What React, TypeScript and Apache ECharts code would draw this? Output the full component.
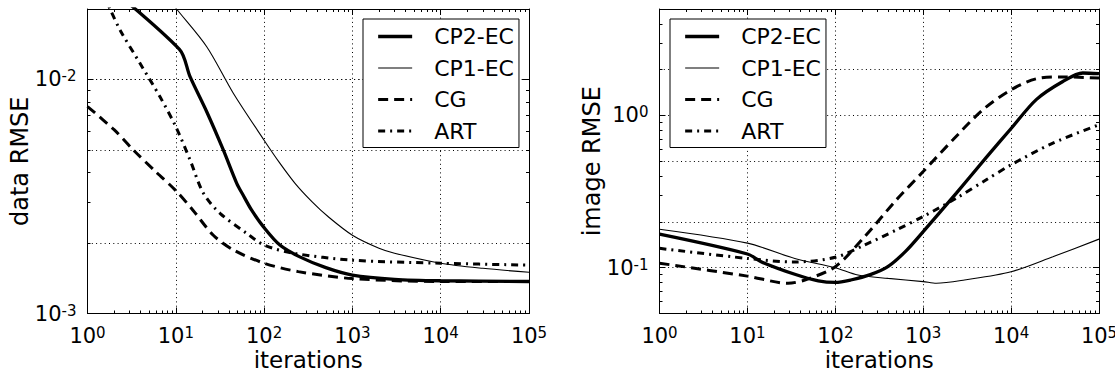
import React, { useEffect, useRef } from "react";
import * as echarts from "echarts";

const FONT = '"DejaVu Sans", "Liberation Sans", sans-serif';
const SERIES_NAMES = ["CP2-EC", "CP1-EC", "CG", "ART"];

// ---------- left panel: data RMSE ----------
const leftCP2Iter = [1, 11, 14.5, 22.4, 34.5, 49, 58, 72, 98, 151, 250, 500, 1000, 3000, 10000, 100000];
const leftCP2Val = [0.0296, 0.01345, 0.01028, 0.00728, 0.005, 0.0036, 0.0032, 0.00277, 0.00235, 0.00196, 0.00175, 0.00157, 0.00146, 0.0014, 0.00138, 0.00137];

const leftCP1Iter = [1, 10.2, 22.4, 44.8, 100, 150, 224, 350, 533, 1000, 2000, 3000, 10000, 30000, 100000];
const leftCP1Val = [0.06, 0.02, 0.0138, 0.00873, 0.0055, 0.0044, 0.0036, 0.003, 0.00259, 0.00216, 0.0019, 0.00181, 0.00164, 0.00156, 0.0015];

const leftCGIter = [1, 2, 3.3, 6.07, 10, 15.8, 26.6, 44.8, 100, 244, 1000, 10000, 100000];
const leftCGVal = [0.00766, 0.0061, 0.005, 0.004, 0.00335, 0.00275, 0.00216, 0.00187, 0.00164, 0.00151, 0.00141, 0.00137, 0.00137];

const leftARTIter = [1, 1.8, 2.33, 3.93, 6.6, 10, 14.5, 20.5, 31.7, 63.5, 100, 214, 1000, 10000, 100000];
const leftARTVal = [0.032, 0.02, 0.0163, 0.01172, 0.00845, 0.00628, 0.00453, 0.00327, 0.00268, 0.0022, 0.00196, 0.00181, 0.00169, 0.00164, 0.00161];

// ---------- right panel: image RMSE ----------
const rightCP2Iter = [1, 10, 14.5, 34.6, 64, 100, 150, 250, 400, 630, 1000, 2384, 5224, 10000, 19320, 38800, 65400, 100000];
const rightCP2Val = [0.166, 0.123, 0.109, 0.0905, 0.082, 0.08, 0.083, 0.09, 0.102, 0.128, 0.1725, 0.309, 0.53, 0.82, 1.27, 1.67, 1.9, 1.88];

const rightCP1Iter = [1, 10, 34.6, 100, 181, 400, 1000, 1413, 2950, 10000, 29850, 100000];
const rightCP1Val = [0.179, 0.145, 0.115, 0.1, 0.0895, 0.085, 0.081, 0.079, 0.083, 0.094, 0.118, 0.154];

const rightCGIter = [1, 10, 29, 45, 100, 216, 496, 1000, 2180, 4780, 10000, 19320, 38800, 100000];
const rightCGVal = [0.107, 0.088, 0.079, 0.083, 0.1015, 0.16, 0.279, 0.428, 0.692, 1.09, 1.475, 1.74, 1.79, 1.76];

const rightARTIter = [1, 10, 34.6, 100, 216, 496, 1000, 2384, 5224, 10000, 29850, 100000];
const rightARTVal = [0.134, 0.115, 0.109, 0.117, 0.141, 0.177, 0.217, 0.286, 0.378, 0.474, 0.658, 0.869];

// ---------- ticks ----------
const xLabelValues = [1, 10, 100, 1000, 10000, 100000];
const leftYLabelValues = [0.001, 0.01];
const rightYLabelValues = [0.1, 1];
const leftYGridValues = [0.002, 0.005, 0.01, 0.02];
const rightYGridValues = [0.2, 0.5, 2, 5];

function minorValues(eLo: number, eHi: number, mults: number[]) {
  const out: number[] = [];
  for (let e = eLo; e <= eHi; e++) {
    for (const m of mults) out.push(parseFloat((m * Math.pow(10, e)).toPrecision(6)));
  }
  return out;
}
const ALL_MULTS = [2, 3, 4, 5, 6, 7, 8, 9];
const OTHER_MULTS = [3, 4, 6, 7, 8, 9];

const BLACK = "#000";
const GRID_STYLE = { color: BLACK, width: 1, type: [1, 3.3] as any };
const TICK_STYLE = { color: BLACK, width: 1 };

const RICH = {
  b: { fontSize: 21, fontFamily: FONT, color: BLACK, verticalAlign: "bottom", lineHeight: 21 },
  s: { fontSize: 15, fontFamily: FONT, color: BLACK, verticalAlign: "top", lineHeight: 15 },
};
const expLabel = (v: number) => `{b|10}{s|${Math.round(Math.log10(v))}}`;

const LINE_STYLES: Record<string, any> = {
  "CP2-EC": { color: BLACK, width: 3.3, type: "solid" },
  "CP1-EC": { color: BLACK, width: 1.1, type: "solid" },
  CG: { color: BLACK, width: 3, type: [10, 6] },
  ART: { color: BLACK, width: 3, type: [7, 5, 2, 5] },
};

function xAxes(gridIndex: number) {
  const base = { type: "log", logBase: 10, gridIndex, min: 1, max: 100000, silent: true };
  const majors = [1, 10, 100, 1000, 10000, 100000];
  const minors = minorValues(0, 4, ALL_MULTS);
  return [
    {
      ...base,
      position: "bottom",
      axisLine: { show: true, onZero: false, lineStyle: { color: BLACK, width: 1 } },
      axisTick: { show: true, inside: true, length: 6, customValues: majors, lineStyle: TICK_STYLE },
      axisLabel: {
        show: true, customValues: xLabelValues, formatter: expLabel, rich: RICH, margin: 12,
        hideOverlap: false, showMinLabel: true, showMaxLabel: true,
      },
      splitLine: { show: true, lineStyle: GRID_STYLE },
      name: "iterations",
      nameLocation: "middle",
      nameGap: 35,
      nameMoveOverlap: false,
      nameTextStyle: { fontSize: 23, fontFamily: FONT, color: BLACK, lineHeight: 23 },
    },
    {
      ...base,
      position: "bottom",
      axisLine: { show: false, onZero: false },
      axisTick: { show: true, inside: true, length: 3, customValues: minors, lineStyle: TICK_STYLE },
      axisLabel: { show: false },
      splitLine: { show: false },
    },
    {
      ...base,
      position: "top",
      axisLine: { show: true, onZero: false, lineStyle: { color: BLACK, width: 1 } },
      axisTick: { show: true, inside: true, length: 6, customValues: majors, lineStyle: TICK_STYLE },
      axisLabel: { show: false },
      splitLine: { show: false },
    },
    {
      ...base,
      position: "top",
      axisLine: { show: false, onZero: false },
      axisTick: { show: true, inside: true, length: 3, customValues: minors, lineStyle: TICK_STYLE },
      axisLabel: { show: false },
      splitLine: { show: false },
    },
  ];
}

function yAxes(
  gridIndex: number, min: number, max: number, eLo: number, eHi: number,
  labels: number[], gridVals: number[], name: string, nameGap: number
) {
  const base = { type: "log", logBase: 10, gridIndex, min, max, silent: true };
  const majors: number[] = [];
  for (let e = eLo; e <= eHi; e++) majors.push(parseFloat(Math.pow(10, e).toPrecision(6)));
  const otherMinor = minorValues(eLo, eHi, OTHER_MULTS);
  const allMinor = minorValues(eLo, eHi, ALL_MULTS);
  return [
    {
      ...base,
      position: "left",
      axisLine: { show: true, onZero: false, lineStyle: { color: BLACK, width: 1 } },
      axisTick: { show: true, inside: true, length: 6, customValues: majors, lineStyle: TICK_STYLE },
      axisLabel: {
        show: true, customValues: labels, formatter: expLabel, rich: RICH, margin: 11,
        hideOverlap: false, showMinLabel: true, showMaxLabel: true,
      },
      splitLine: { show: true, lineStyle: GRID_STYLE },
      name,
      nameLocation: "middle",
      nameGap,
      nameMoveOverlap: false,
      nameTextStyle: { fontSize: 24, fontFamily: FONT, color: BLACK },
    },
    {
      ...base,
      position: "left",
      axisLine: { show: false, onZero: false },
      axisTick: { show: true, inside: true, length: 3, customValues: gridVals, lineStyle: TICK_STYLE },
      axisLabel: { show: false },
      splitLine: { show: true, lineStyle: GRID_STYLE },
    },
    {
      ...base,
      position: "left",
      axisLine: { show: false, onZero: false },
      axisTick: { show: true, inside: true, length: 3, customValues: otherMinor, lineStyle: TICK_STYLE },
      axisLabel: { show: false },
      splitLine: { show: false },
    },
    {
      ...base,
      position: "right",
      axisLine: { show: true, onZero: false, lineStyle: { color: BLACK, width: 1 } },
      axisTick: { show: true, inside: true, length: 6, customValues: majors, lineStyle: TICK_STYLE },
      axisLabel: { show: false },
      splitLine: { show: false },
    },
    {
      ...base,
      position: "right",
      axisLine: { show: false, onZero: false },
      axisTick: { show: true, inside: true, length: 3, customValues: allMinor, lineStyle: TICK_STYLE },
      axisLabel: { show: false },
      splitLine: { show: false },
    },
  ];
}

function makeSeries(name: string, iters: number[], vals: number[], xi: number, yi: number) {
  return {
    type: "line",
    name,
    xAxisIndex: xi,
    yAxisIndex: yi,
    data: iters.map((x, i) => [x, vals[i]]),
    symbol: "none",
    smooth: 0.3,
    clip: true,
    silent: true,
    itemStyle: { color: BLACK },
    lineStyle: LINE_STYLES[name],
    emphasis: { disabled: true },
    z: 3,
  };
}

function legend(left: number) {
  return {
    left,
    top: 19,
    orient: "vertical",
    itemWidth: 34,
    itemHeight: 14,
    itemGap: 7.5,
    padding: [5.5, 5, 4.5, 13.5],
    borderColor: BLACK,
    borderWidth: 1,
    backgroundColor: "#fff",
    selectedMode: false,
    itemStyle: { opacity: 0 },
    textStyle: { fontSize: 22, fontFamily: FONT, color: BLACK, lineHeight: 24, padding: [0, 0, 0, 17] },
    data: SERIES_NAMES.map((n) => ({
      name: n,
      itemStyle: { opacity: 0 },
      lineStyle: { ...LINE_STYLES[n], opacity: 1 },
    })),
    z: 10,
  };
}

export default function App() {
  const ref = useRef<HTMLDivElement>(null);
  useEffect(() => {
    const chart = echarts.init(ref.current!, null, { renderer: "svg" });
    const option: any = {
      animation: false,
      backgroundColor: "#fff",
      textStyle: { fontFamily: FONT },
      grid: [
        { left: 87.5, top: 9, width: 441.5, height: 304.5, outerBoundsMode: "none", containLabel: false },
        { left: 659.5, top: 9, width: 439.5, height: 304.5, outerBoundsMode: "none", containLabel: false },
      ],
      xAxis: [...xAxes(0), ...xAxes(1)],
      yAxis: [
        ...yAxes(0, 0.001, 0.02, -3, -2, leftYLabelValues, leftYGridValues, "data RMSE", 56),
        ...yAxes(1, 0.05, 5, -2, 0, rightYLabelValues, rightYGridValues, "image RMSE", 56),
      ],
      legend: [legend(363), legend(670)],
      series: [
        makeSeries("CP2-EC", leftCP2Iter, leftCP2Val, 0, 0),
        makeSeries("CP1-EC", leftCP1Iter, leftCP1Val, 0, 0),
        makeSeries("CG", leftCGIter, leftCGVal, 0, 0),
        makeSeries("ART", leftARTIter, leftARTVal, 0, 0),
        makeSeries("CP2-EC", rightCP2Iter, rightCP2Val, 4, 5),
        makeSeries("CP1-EC", rightCP1Iter, rightCP1Val, 4, 5),
        makeSeries("CG", rightCGIter, rightCGVal, 4, 5),
        makeSeries("ART", rightARTIter, rightARTVal, 4, 5),
      ],
    };
    chart.setOption(option);
    return () => chart.dispose();
  }, []);
  return (
    <div
      ref={ref}
      style={{ position: "absolute", left: 0, top: 0, width: 1115, height: 373, background: "#fff" }}
    />
  );
}
